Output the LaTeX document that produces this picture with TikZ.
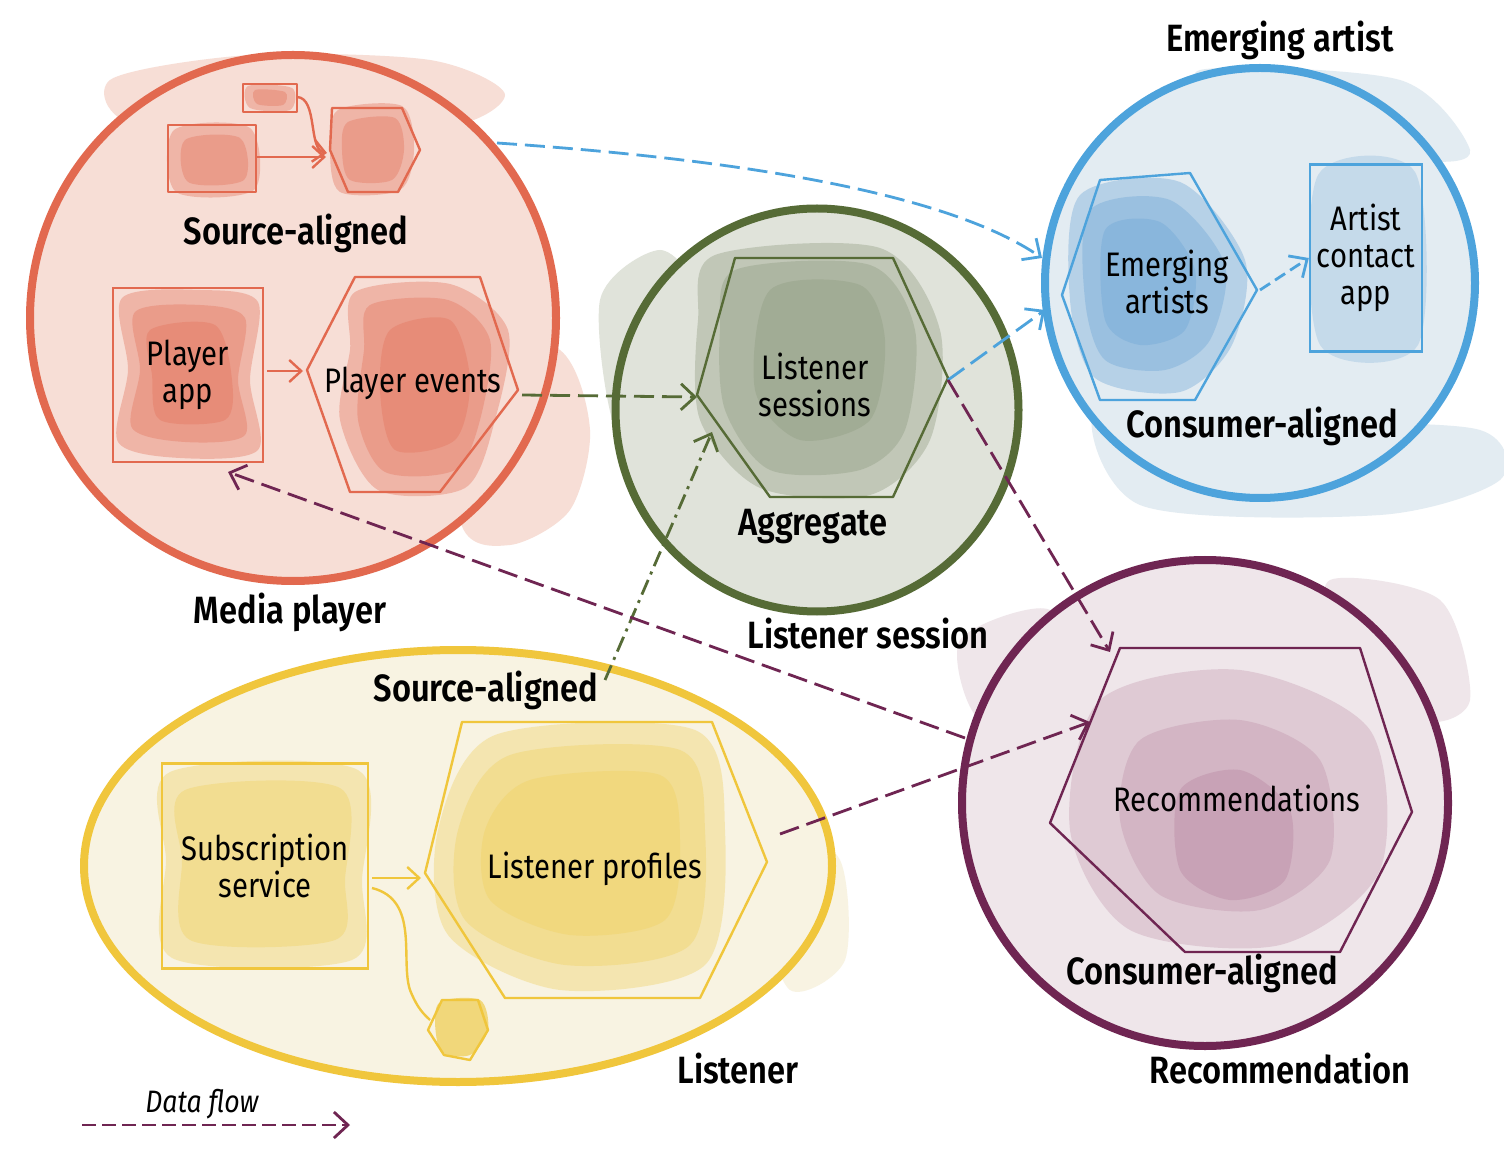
\documentclass[tikz,border=0pt]{standalone}
\usepackage{fontspec}
\setmainfont{Fira Sans}[FakeStretch=0.86, BoldFont={Fira Sans SemiBold}, BoldFeatures={FakeStretch=0.86}]
\usetikzlibrary{arrows.meta,shapes.geometric}

\definecolor{mpred}{HTML}{E2694F}
\definecolor{mpwash}{HTML}{F7DED6}
\definecolor{mpink}{HTML}{E4745D}
\definecolor{lsgreen}{HTML}{566B36}
\definecolor{lswash}{HTML}{E0E3DA}
\definecolor{lsink}{HTML}{8F9C80}
\definecolor{eablue}{HTML}{4DA3DC}
\definecolor{eawash}{HTML}{E3ECF2}
\definecolor{eaink}{HTML}{6FA6D6}
\definecolor{recmaroon}{HTML}{6F2552}
\definecolor{recwash}{HTML}{EFE6EA}
\definecolor{recink}{HTML}{B07896}
\definecolor{lyellow}{HTML}{F0C63C}
\definecolor{lwash}{HTML}{F8F3E2}
\definecolor{link}{HTML}{F0D060}

\tikzset{every picture/.style={line width=0.75pt}}
\tikzset{
  ring/.style={draw=#1, line width=4pt, inner sep=0pt, outer sep=0pt},
  sketch/.style={draw=#1, line width=1.2pt, line join=round},
  wash/.style={fill=#1, draw=none},
  ink/.style={fill=#1, draw=none, opacity=0.38},
  boxnode/.style={draw=#1, line width=1.2pt, inner sep=0pt, align=center},
  flow/.style={draw=#1, line width=1.4pt, dash pattern=on 10pt off 4pt, -{Straight Barb[length=7pt,width=13pt,line width=1.4pt]}},
  solidflow/.style={draw=#1, line width=1.2pt, -{Straight Barb[length=6pt,width=11pt,line width=1.2pt]}},
  lbl/.style={font=\fontsize{19}{22}\selectfont\bfseries},
  txt/.style={font=\fontsize{17}{18.5}\selectfont, align=center},
}

\begin{document}
\begin{tikzpicture}[x=0.5pt,y=0.5pt,yscale=-1,xscale=1]
	\useasboundingbox (0,0) rectangle (1504,1154);
	\fill[white] (0,0) rectangle (1504,1154);

	%Shape: Wash bleeds [id:bleeds]
	\fill[wash=mpwash] plot[smooth cycle] coordinates {(460,330) (560,350) (590,430) (570,510) (510,545) (460,520)};
	\fill[wash=mpwash] plot[smooth cycle] coordinates {(110,80) (250,55) (430,60) (505,95) (430,130) (150,130)};
	\fill[wash=lswash] plot[smooth cycle] coordinates {(600,300) (660,250) (700,300) (690,420) (620,440)};
	\fill[wash=eawash] plot[smooth cycle] coordinates {(1100,400) (1300,420) (1480,430) (1500,480) (1380,515) (1140,505)};
	\fill[wash=eawash] plot[smooth cycle] coordinates {(1200,70) (1400,80) (1470,150) (1420,160) (1250,120)};
	\fill[wash=recwash] plot[smooth cycle] coordinates {(1330,580) (1440,600) (1470,700) (1420,720) (1340,650)};
	\fill[wash=recwash] plot[smooth cycle] coordinates {(960,640) (1050,610) (1060,700) (980,720)};
	\fill[wash=lwash] plot[smooth cycle] coordinates {(780,830) (840,860) (845,960) (790,990) (760,900)};

	%Shape: Circle [id:mediaplayer]
	\node[ring=mpred, fill=mpwash, circle, minimum size=263pt] (mp) at (293,318) {};
	%Shape: Circle [id:listenersession]
	\node[ring=lsgreen, fill=lswash, circle, minimum size=201.5pt] (ls) at (817,410) {};
	%Shape: Circle [id:emergingartist]
	\node[ring=eablue, fill=eawash, circle, minimum size=215pt] (ea) at (1260,283) {};
	%Shape: Circle [id:recommendation]
	\node[ring=recmaroon, fill=recwash, circle, minimum size=243pt] (rec) at (1205,803) {};
	%Shape: Ellipse [id:listener]
	\node[ring=lyellow, fill=lwash, ellipse, minimum width=374pt, minimum height=216pt] (lis) at (458,866) {};

	%Shape: Ink blobs, player app [id:inkpa]
	\fill[ink=mpink] plot[smooth cycle] coordinates {(122,298) (200,290) (258,302) (250,380) (258,450) (180,458) (118,442) (128,370)};
	\fill[ink=mpink] plot[smooth cycle] coordinates {(135,312) (200,305) (245,318) (238,380) (245,435) (185,442) (132,428) (140,370)};
	\fill[ink=mpink] plot[smooth cycle] coordinates {(150,330) (215,325) (232,380) (225,420) (160,420) (152,375)};
	%Shape: Ink blobs, player events [id:inkpe]
	\fill[ink=mpink] plot[smooth cycle] coordinates {(355,292) (450,284) (508,330) (495,420) (465,488) (378,490) (340,420) (350,350)};
	\fill[ink=mpink] plot[smooth cycle] coordinates {(370,305) (448,300) (490,340) (480,420) (455,470) (385,472) (358,420) (364,350)};
	\fill[ink=mpink] plot[smooth cycle] coordinates {(390,330) (450,320) (470,380) (455,440) (395,450) (380,390)};
	%Shape: Ink blobs, small [id:inksm]
	\fill[ink=mpink] plot[smooth cycle] coordinates {(174,130) (250,128) (254,190) (176,192)};
	\fill[ink=mpink] plot[smooth cycle] coordinates {(185,140) (240,138) (244,180) (188,182)};
	\fill[ink=mpink] plot[smooth cycle] coordinates {(248,86) (292,88) (290,110) (250,108)};
	\fill[ink=mpink] plot[smooth cycle] coordinates {(255,90) (285,92) (283,105) (257,104)};
	\fill[ink=mpink] plot[smooth cycle] coordinates {(338,110) (402,106) (414,150) (400,190) (340,192) (330,150)};
	\fill[ink=mpink] plot[smooth cycle] coordinates {(348,122) (395,118) (404,150) (392,180) (350,180) (342,150)};
	%Shape: Ink blobs, listener sessions [id:inkls]
	\fill[ink=lsink] plot[smooth cycle] coordinates {(715,255) (880,248) (940,330) (930,440) (870,495) (760,488) (700,420) (698,320)};
	\fill[ink=lsink] plot[smooth cycle] coordinates {(735,270) (870,265) (915,330) (905,430) (860,470) (770,470) (725,410) (720,330)};
	\fill[ink=lsink] plot[smooth cycle] coordinates {(770,290) (860,285) (885,340) (870,420) (800,440) (755,390)};
	%Shape: Ink blobs, emerging artists [id:inkea]
	\fill[ink=eaink] plot[smooth cycle] coordinates {(1080,195) (1180,182) (1245,260) (1232,345) (1180,392) (1095,378) (1070,300)};
	\fill[ink=eaink] plot[smooth cycle] coordinates {(1090,210) (1170,200) (1225,265) (1210,340) (1165,370) (1105,360) (1085,300)};
	\fill[ink=eaink] plot[smooth cycle] coordinates {(1105,230) (1160,222) (1195,270) (1185,330) (1140,345) (1105,320)};
	\fill[ink=eaink, opacity=0.25] plot[smooth cycle] coordinates {(1318,175) (1415,172) (1418,345) (1320,345)};
	%Shape: Ink blobs, recommendations [id:inkrec]
	\fill[ink=recink, opacity=0.25] plot[smooth cycle] coordinates {(1100,700) (1240,670) (1370,730) (1380,870) (1280,945) (1130,930) (1070,830)};
	\fill[ink=recink, opacity=0.25] plot[smooth cycle] coordinates {(1140,740) (1240,720) (1320,760) (1330,860) (1260,910) (1160,895) (1120,820)};
	\fill[ink=recink, opacity=0.3] plot[smooth cycle] coordinates {(1180,790) (1240,770) (1290,810) (1285,880) (1230,900) (1180,870)};
	%Shape: Ink blobs, listener [id:inkl]
	\fill[ink=link] plot[smooth cycle] coordinates {(170,772) (358,770) (362,880) (352,960) (172,958) (166,860)};
	\fill[ink=link] plot[smooth cycle] coordinates {(185,790) (340,788) (345,880) (335,940) (190,940) (182,860)};
	\fill[ink=link] plot[smooth cycle] coordinates {(495,735) (695,730) (725,830) (705,965) (560,990) (448,935) (438,830)};
	\fill[ink=link] plot[smooth cycle] coordinates {(510,755) (680,750) (705,830) (690,945) (565,965) (465,920) (458,830)};
	\fill[ink=link] plot[smooth cycle] coordinates {(530,780) (660,775) (680,840) (665,920) (570,935) (490,900) (485,830)};
	\fill[ink=link, opacity=0.8] plot[smooth cycle] coordinates {(438,1004) (480,1000) (488,1030) (470,1055) (440,1050)};

	%Shape: Hexagons [id:hexes]
	\draw[sketch=mpred] (355,277) -- (480,277) -- (518,390) -- (440,492) -- (350,492) -- (307,370) -- cycle;
	\draw[sketch=mpred] (332,108) -- (402,108) -- (420,150) -- (398,192) -- (348,192) -- (330,150) -- cycle;
	\draw[sketch=lsgreen] (735,258) -- (893,258) -- (948,378) -- (893,497) -- (770,497) -- (697,395) -- cycle;
	\draw[sketch=eablue] (1100,180) -- (1190,173) -- (1257,290) -- (1195,400) -- (1100,400) -- (1062,295) -- cycle;
	\draw[sketch=recmaroon] (1120,648) -- (1360,648) -- (1412,812) -- (1340,952) -- (1185,952) -- (1050,823) -- cycle;
	\draw[sketch=lyellow] (462,722) -- (712,722) -- (767,862) -- (700,998) -- (505,998) -- (425,873) -- cycle;
	\draw[sketch=lyellow] (442,1000) -- (478,1000) -- (488,1030) -- (470,1060) -- (444,1055) -- (428,1030) -- cycle;

	%Shape: Boxes [id:boxes]
	\draw[sketch=mpred] (168,125) rectangle (256,192);
	\draw[sketch=mpred] (243,84) rectangle (297,112);
	\node[boxnode=mpred, minimum width=75pt, minimum height=87pt, txt] (pa) at (188,375) {Player\\app};
	\node[boxnode=eablue, minimum width=56pt, minimum height=93.5pt, txt] (aca) at (1366,258) {Artist\\contact\\app};
	\node[boxnode=lyellow, minimum width=103pt, minimum height=102.5pt, txt] (sub) at (265,866) {Subscription\\service};

	%Straight Lines [id:inner]
	\draw[solidflow=mpred] (257,157) -- (326,157);
	\draw[solidflow=mpred] (297,97) .. controls (318,98) and (308,150) .. (327,153);
	\draw[solidflow=mpred] (pa.east) ++(3,-4) -- (303,371);
	\draw[solidflow=lyellow] (sub.east) ++(3,12) -- (421,878);
	\draw[sketch=lyellow] (372,888) .. controls (420,900) and (400,960) .. (410,990) .. controls (418,1010) and (425,1015) .. (430,1020);

	% Text Node
	\node[txt] (pe) at (413,383) {Player events};
	\node[txt] (lss) at (815,385) {Listener\\sessions};
	\node[txt] (eas) at (1167,282) {Emerging\\artists};
	\node[txt] (recs) at (1237,798) {Recommendations};
	\node[txt] (lp) at (595,869) {Listener profiles};

	% Label Node
	\node[lbl] (mpl) at (290,612) {Media player};
	\node[lbl] (mpsa) at (296,233) {Source-aligned};
	\node[lbl] (lsl) at (868,634) {Listener session};
	\node[lbl] (lsag) at (813,527) {Aggregate};
	\node[lbl] (eal) at (1280,40) {Emerging artist};
	\node[lbl] (eaca) at (1262,426) {Consumer-aligned};
	\node[lbl] (recl) at (1280,1069) {Recommendation};
	\node[lbl] (recca) at (1202,973) {Consumer-aligned};
	\node[lbl] (lisl) at (738,1069) {Listener};
	\node[lbl] (lissa) at (486,690) {Source-aligned};

	% Data flows
	\coordinate (pe-r) at (522,395);
	\coordinate (ls-l) at (697,397);
	\coordinate (ls-in) at (712,432);
	\coordinate (ls-r) at (948,380);
	\coordinate (ea-in1) at (1042,258);
	\coordinate (ea-in2) at (1045,310);
	\coordinate (mp-out) at (497,143);
	\coordinate (ea-r) at (1260,290);
	\coordinate (rec-in1) at (1110,652);
	\coordinate (rec-in2) at (1090,722);
	\coordinate (rec-out) at (965,738);
	\coordinate (pa-in) at (228,472);
	\coordinate (lp-out) at (780,834);
	\coordinate (lis-out) at (605,680);
	\draw[flow=eablue] (mp-out) .. controls (750,160) and (950,195) .. (ea-in1);
	\draw[flow=eablue] (ls-r) -- (ea-in2);
	\draw[flow=eablue, dash pattern=on 6pt off 3pt] (ea-r) -- (aca.west);
	\draw[flow=lsgreen] (pe-r) -- (ls-l);
	\draw[flow=lsgreen, dash pattern=on 8pt off 3pt on 1.5pt off 3pt] (lis-out) -- (ls-in);
	\draw[flow=recmaroon] (ls-r) -- (rec-in1);
	\draw[flow=recmaroon] (rec-out) -- (pa-in);
	\draw[flow=recmaroon] (lp-out) -- (rec-in2);

	% Legend
	\node[font=\fontsize{15.5}{17}\selectfont\itshape] (dfl) at (202,1104) {Data flow};
	\coordinate (lg-a) at (82,1125);
	\coordinate (lg-b) at (350,1125);
	\draw[flow=recmaroon, line width=1.1pt, dash pattern=on 7pt off 3pt] (lg-a) -- (lg-b);

\end{tikzpicture}
\end{document}
